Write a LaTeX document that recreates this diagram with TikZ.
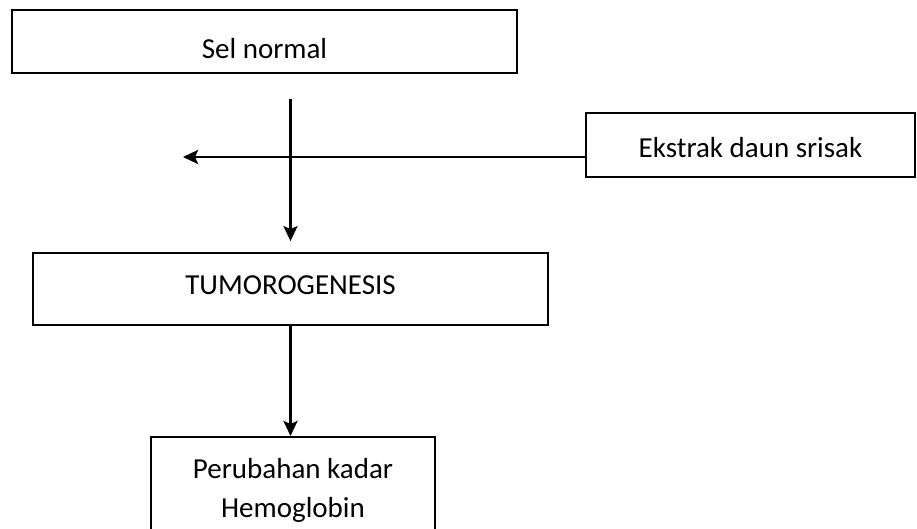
\documentclass[tikz,border=0pt]{standalone}
\usepackage{fontspec}
\setmainfont{Carlito}
\usepackage{tikz}
\usetikzlibrary{arrows.meta,positioning}

\begin{document}
\begin{tikzpicture}[x=1pt, y=-1pt, >={Stealth[length=15pt, width=14pt, inset=3pt]}, font=\fontsize{29}{39}\selectfont]
\tikzstyle{box}=[draw, line width=1.8pt, inner sep=0pt]
\tikzstyle{flow}=[->, line width=2.8pt]
\useasboundingbox (0,0) rectangle (917,528);

\node[box, minimum width=505pt, minimum height=63pt, text height=33pt, text depth=0pt] (sel) at (264.5,41.5) {Sel normal};
\node[box, minimum width=329pt, minimum height=64pt, text height=24pt, text depth=0pt] (ekstrak) at (750.5,145) {Ekstrak daun srisak};
\node[box, minimum width=515pt, minimum height=72pt, text height=20pt, text depth=9pt] (tumor) at (290.5,289) {TUMOROGENESIS};
\node[box, minimum width=284pt, minimum height=107pt, align=center, anchor=north] (hb) at (293,436) {Perubahan kadar\\Hemoglobin};

\coordinate (kiri) at (183,157);

\draw[flow, shorten <=25pt, shorten >=11pt] (sel.south -| tumor.north) -- (tumor.north);
\draw[flow] (ekstrak.west |- kiri) -- (kiri);
\draw[flow] (tumor.south) -- (hb.north -| tumor.south);
\end{tikzpicture}
\end{document}
